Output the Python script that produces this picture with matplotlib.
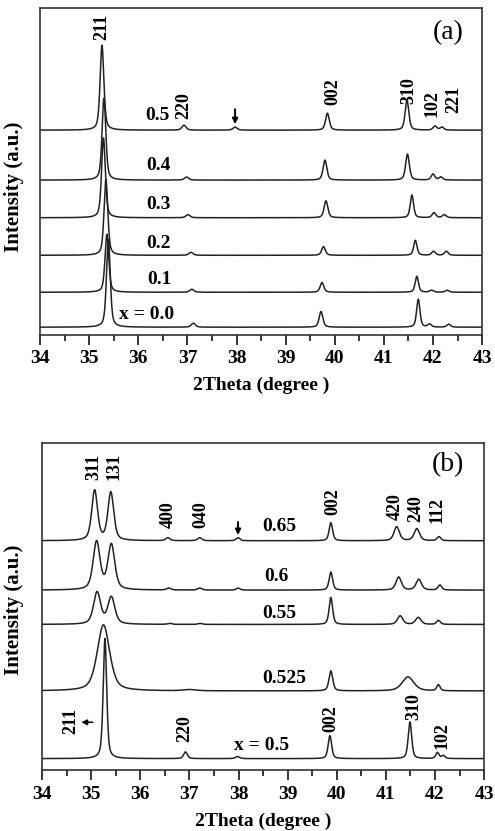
import numpy as np
import matplotlib.pyplot as plt

# ===============================================
# FIGURE STYLE
# ===============================================
plt.rcParams["font.family"] = ["Liberation Serif", "DejaVu Serif"]
plt.rcParams["font.weight"] = "bold"

# ===============================================
# DATA  (peak centre in degree, height and half width)
# ===============================================
# panel (a)
a_names = ["x = 0.0", "0.1", "0.2", "0.3", "0.4", "0.5"]
a_offsets = [7.7, 42.7, 79.7, 117.3, 155.0, 205.0]
a_centers = [
    [35.39, 37.12, 39.72, 41.70, 41.93, 42.32],
    [35.36, 37.09, 39.74, 41.67, 41.97, 42.29],
    [35.34, 37.07, 39.77, 41.64, 42.01, 42.27],
    [35.29, 37.01, 39.82, 41.57, 42.02, 42.23],
    [35.30, 36.98, 39.80, 41.48, 42.00, 42.16],
    [35.26, 36.93, 37.97, 39.85, 41.47, 42.04, 42.18],
]
a_heights = [
    [88, 4, 15.7, 28, 3, 3],
    [58, 3, 9.7, 16, 2, 2],
    [76, 3, 8.7, 15, 4, 4],
    [80, 3, 17, 22.7, 5, 3],
    [82, 3, 20, 26, 6, 3],
    [85, 5, 3, 17, 30, 4, 3],
]
a_widths = [
    [0.045, 0.05, 0.045, 0.04, 0.045, 0.045],
    [0.045, 0.05, 0.045, 0.04, 0.045, 0.045],
    [0.045, 0.05, 0.045, 0.04, 0.045, 0.045],
    [0.045, 0.05, 0.045, 0.04, 0.045, 0.045],
    [0.045, 0.05, 0.045, 0.045, 0.045, 0.045],
    [0.045, 0.05, 0.05, 0.045, 0.045, 0.045, 0.045],
]

# panel (b)
b_names = ["x = 0.5", "0.525", "0.55", "0.6", "0.65"]
b_offsets = [11.7, 79.3, 145.7, 180.0, 229.3]
b_centers = [
    [35.28, 36.92, 37.98, 39.86, 41.49, 42.05, 42.17],
    [35.25, 37.00, 39.88, 41.45, 42.07],
    [35.12, 35.41, 36.60, 37.22, 39.88, 41.29, 41.66, 42.07],
    [35.11, 35.41, 36.58, 37.21, 37.99, 39.88, 41.26, 41.67, 42.10],
    [35.07, 35.40, 36.56, 37.21, 37.99, 39.88, 41.22, 41.63, 42.08],
]
b_heights = [
    [120, 6.7, 2, 23, 36.7, 6, 3],
    [66, 1.2, 20, 14, 6],
    [32, 27, 1, 1, 27, 8.6, 7, 4],
    [48, 45, 2, 2, 2, 18, 13, 10.7, 5],
    [50, 48, 3, 3, 3, 18, 14, 12, 4],
]
b_widths = [
    [0.042, 0.045, 0.05, 0.042, 0.042, 0.04, 0.04],
    [0.15, 0.15, 0.045, 0.14, 0.04],
    [0.085, 0.085, 0.05, 0.05, 0.042, 0.065, 0.065, 0.045],
    [0.083, 0.083, 0.05, 0.05, 0.045, 0.042, 0.065, 0.065, 0.045],
    [0.07, 0.07, 0.05, 0.05, 0.045, 0.042, 0.065, 0.065, 0.045],
]

# peak labels: text, x, y (rotated hkl)
a_hkl = [("211", 35.26, 308), ("220", 36.92, 230), ("002", 39.96, 244),
         ("310", 41.50, 245), ("102", 41.98, 232), ("221", 42.43, 236)]
a_name_pos = [(36.17, 20), (36.42, 55), (36.42, 92), (36.41, 131),
              (36.41, 170), (36.38, 220)]
b_hkl = [("311", 35.05, 303), ("131", 35.47, 303), ("400", 36.56, 255),
         ("040", 37.24, 255), ("002", 39.93, 268), ("420", 41.19, 263),
         ("240", 41.61, 261), ("112", 42.04, 260),
         ("211", 34.59, 49), ("220", 36.90, 42), ("002", 39.89, 52),
         ("310", 41.56, 64), ("102", 42.14, 35)]
b_name_pos = [(38.47, 25), (38.94, 92), (38.83, 157), (38.77, 194),
              (38.84, 244)]

x = np.linspace(34, 43, 4000)


def pattern(centers, heights, widths, eta=0.5):
    # pseudo-voigt peaks
    y = np.zeros_like(x)
    for c, h, w in zip(centers, heights, widths):
        d = (x - c) / w
        y += h * (eta / (1 + d ** 2) + (1 - eta) * np.exp(-np.log(2) * d ** 2))
    return y


def style_axis(ax):
    ax.set_xlim(34, 43)
    ax.set_ylim(0, 327)
    ax.set_xticks(np.arange(34, 44, 1))
    ax.set_xticks(np.arange(34.5, 43, 1), minor=True)
    ax.set_yticks([])
    ax.tick_params(axis="x", which="major", direction="out", length=7,
                   width=1.1, labelsize=14, pad=4)
    ax.tick_params(axis="x", which="minor", direction="out", length=4,
                   width=1.1)
    for s in ax.spines.values():
        s.set_linewidth(1.2)
        s.set_color("#333333")
    ax.set_xlabel("2Theta (degree )", fontsize=14, fontweight="bold", labelpad=7)


def arrow(ax, start, end, lw=1.4):
    ax.annotate("", xy=end, xytext=start,
                arrowprops=dict(arrowstyle="-|>", color="black", lw=lw,
                                mutation_scale=8, shrinkA=0, shrinkB=0))


fig = plt.figure(figsize=(4.95, 8.31), dpi=100)
ax1 = fig.add_axes([0.081, 0.597, 0.893, 0.393])
ax2 = fig.add_axes([0.085, 0.073, 0.893, 0.394])

# ===============================================
# PANEL (a)
# ===============================================
for i in range(len(a_names)):
    y = a_offsets[i] + pattern(a_centers[i], a_heights[i], a_widths[i])
    ax1.plot(x, y, color="#222222", lw=1.1)
    ax1.text(a_name_pos[i][0], a_name_pos[i][1], a_names[i], fontsize=14,
             fontweight="bold", ha="center", va="center")
for t, xx, yy in a_hkl:
    ax1.text(xx, yy, t, rotation=90, fontsize=13, fontweight="bold",
             ha="center", va="center")
arrow(ax1, (37.97, 226), (37.97, 211))
ax1.text(42.31, 303, "(a)", fontsize=20, fontweight="normal",
         ha="center", va="center")
style_axis(ax1)

# ===============================================
# PANEL (b)
# ===============================================
for i in range(len(b_names)):
    y = b_offsets[i] + pattern(b_centers[i], b_heights[i], b_widths[i])
    ax2.plot(x, y, color="#222222", lw=1.1)
    ax2.text(b_name_pos[i][0], b_name_pos[i][1], b_names[i], fontsize=14,
             fontweight="bold", ha="center", va="center")
for t, xx, yy in b_hkl:
    ax2.text(xx, yy, t, rotation=90, fontsize=13, fontweight="bold",
             ha="center", va="center")
arrow(ax2, (37.99, 248), (37.99, 235))
arrow(ax2, (35.03, 48), (34.80, 48), lw=1.1)
ax2.text(42.27, 305, "(b)", fontsize=20, fontweight="normal",
         ha="center", va="center")
style_axis(ax2)

fig.text(0.029, 0.775, "Intensity (a.u.)", rotation=90, fontsize=15,
         fontweight="bold", ha="center", va="center")
fig.text(0.029, 0.266, "Intensity (a.u.)", rotation=90, fontsize=15,
         fontweight="bold", ha="center", va="center")

plt.savefig("out.png", dpi=100)
plt.close()
